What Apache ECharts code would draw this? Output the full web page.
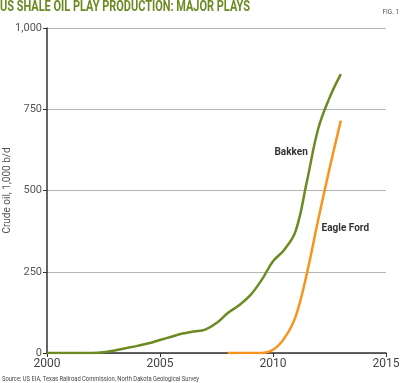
<!DOCTYPE html>
<html><head><meta charset="utf-8">
<script src="https://cdn.jsdelivr.net/npm/echarts@6/dist/echarts.min.js"></script>
<style>html,body{margin:0;padding:0;background:#fff}#c{width:400px;height:383px}</style>
</head><body><div id="c"></div>
<script>
var bakkenYears = [2000, 2000.5, 2001, 2001.5, 2002, 2002.5, 2003, 2003.5, 2004, 2004.5, 2005, 2005.5, 2006, 2006.5, 2007, 2007.5, 2008, 2008.5, 2009, 2009.5, 2010, 2010.5, 2011, 2011.5, 2012, 2012.5, 2013];
var bakkenValues = [0, 0, 0, 0, 0, 2, 8, 15, 22, 30, 40, 50, 60, 66, 72, 92, 123, 147, 178, 225, 282, 318, 375, 528, 690, 785, 858];
var eagleYears = [2008, 2008.5, 2009, 2009.5, 2010, 2010.5, 2011, 2011.5, 2012, 2012.5, 2013];
var eagleValues = [0, 0, 0, 0, 10, 45, 112, 245, 410, 567, 715];
var yTicks = [0, 250, 500, 750, 1000];
var xTicks = [2000, 2005, 2010, 2015];

function pairs(xs, ys){ return xs.map(function(x,i){ return [x, ys[i]]; }); }
var mctx = document.createElement('canvas').getContext('2d');
function fitScale(text, font, target){ mctx.font = font; return target / mctx.measureText(text).width; }

var titleText = 'US SHALE OIL PLAY PRODUCTION: MAJOR PLAYS';
var titleFont = 'bold 15px Roboto';
var srcText = 'Source: US EIA, Texas Railroad Commission, North Dakota Geological Survey';
var srcFont = 'normal 8px Roboto';

var chart = echarts.init(document.getElementById('c'), null, {renderer:'canvas'});
chart.setOption({
  animation: false,
  graphic: [{
    type: 'text', x: 0, y: 0, scaleX: fitScale(titleText, titleFont, 250),
    style: {text: titleText, font: titleFont, fill: '#6b8a22', textVerticalAlign: 'top'}
  },{
    type: 'text', x: 399, y: 8, scaleX: 0.8,
    style: {text: 'FIG. 1', font: 'normal 8px Roboto', fill: '#555', textAlign: 'right', textVerticalAlign: 'top'}
  },{
    type: 'text', x: 2, y: 375, scaleX: fitScale(srcText, srcFont, 197),
    style: {text: srcText, font: srcFont, fill: '#444', textVerticalAlign: 'top'}
  }],
  grid: {left: 47, right: 14, top: 28, bottom: 30, containLabel: false, outerBoundsMode: 'none'},
  xAxis: {
    type: 'value', min: xTicks[0], max: xTicks[xTicks.length-1], interval: 5,
    axisLine: {lineStyle: {color: '#333', width: 1.5}},
    axisTick: {show: true, length: 4, lineStyle: {color: '#333'}},
    axisLabel: {color: '#444', fontSize: 12, margin: 5, fontFamily: 'Roboto, sans-serif',
      formatter: function(v){ return String(v); }},
    splitLine: {show: false}
  },
  yAxis: {
    type: 'value', min: yTicks[0], max: yTicks[yTicks.length-1], interval: 250,
    name: 'Crude oil, 1,000 b/d', nameLocation: 'middle', nameGap: 35, nameRotate: 90,
    nameMoveOverlap: false,
    nameTextStyle: {color: '#555', fontSize: 10, fontFamily: 'Roboto, sans-serif'},
    axisLine: {show: true, lineStyle: {color: '#333', width: 1.5}},
    axisTick: {show: true, length: 4, lineStyle: {color: '#333'}},
    axisLabel: {color: '#555', fontSize: 11, margin: 5, fontFamily: 'Roboto, sans-serif',
      formatter: function(v){ return v.toLocaleString('en-US'); }},
    splitLine: {show: true, lineStyle: {color: '#b5b5b5', width: 1}}
  },
  series: [{
    name: 'Bakken', type: 'line', data: pairs(bakkenYears, bakkenValues),
    smooth: 0.4, showSymbol: false,
    lineStyle: {color: '#6b8a22', width: 2.5},
    markPoint: {symbol: 'circle', symbolSize: 0, data: [{coord: [2010.8, 616]}],
      label: {show: true, formatter: 'Bakken', color: '#333', fontWeight: 'bold', fontSize: 10, fontFamily: 'Roboto, sans-serif'}}
  },{
    name: 'Eagle Ford', type: 'line', data: pairs(eagleYears, eagleValues),
    smooth: 0.4, showSymbol: false,
    lineStyle: {color: '#f7941d', width: 2.5},
    markPoint: {symbol: 'circle', symbolSize: 0, data: [{coord: [2013.2, 383]}],
      label: {show: true, formatter: 'Eagle Ford', color: '#333', fontWeight: 'bold', fontSize: 10, fontFamily: 'Roboto, sans-serif'}}
  }]
});
</script></body></html>
